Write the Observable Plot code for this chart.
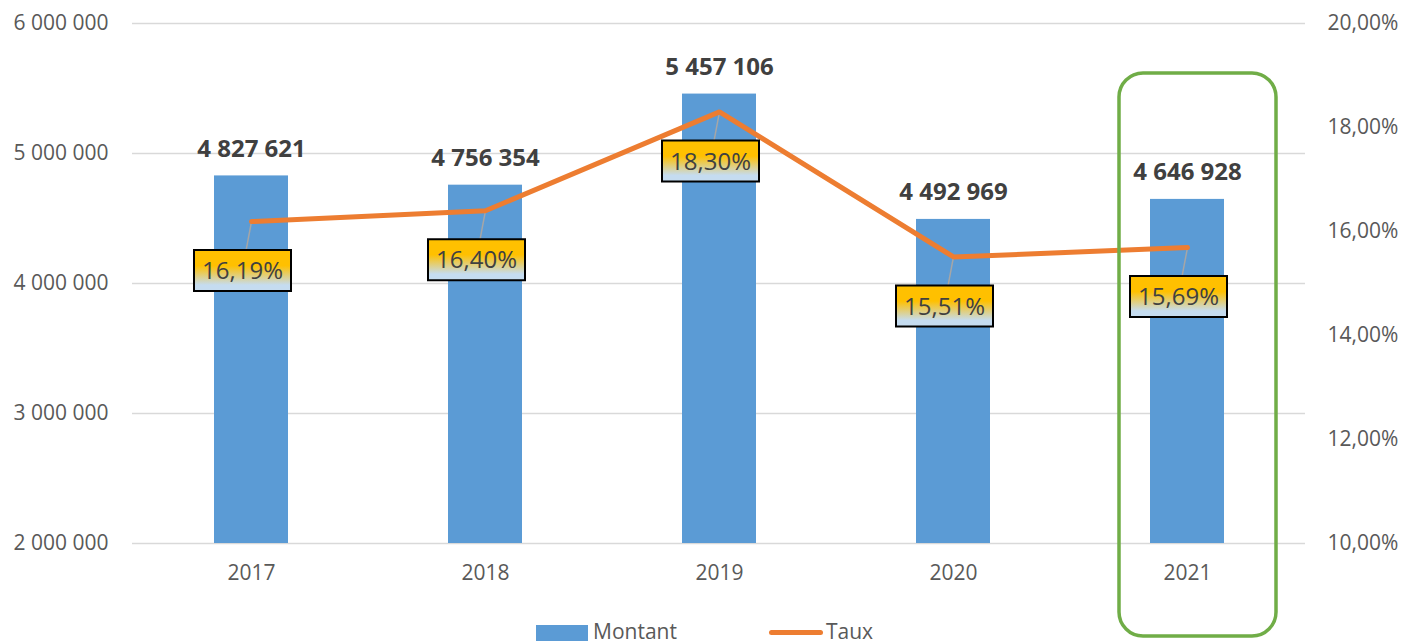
<!DOCTYPE html>
<html>
<head>
<meta charset="utf-8">
<script src="https://cdn.jsdelivr.net/npm/d3@7"></script>
<script src="https://cdn.jsdelivr.net/npm/@observablehq/plot@0.6"></script>
<style>
  html, body { margin: 0; padding: 0; background: #fff; }
  #wrap { position: relative; width: 1401px; height: 641px; overflow: hidden; font-family: "Open Sans", sans-serif; }
  .leg { position: absolute; font-size: 21px; color: #595959; line-height: 24px; }
</style>
</head>
<body>
<div id="wrap"></div>
<script>
// ---- data ----
const years = ["2017", "2018", "2019", "2020", "2021"];
const montant = [4827621, 4756354, 5457106, 4492969, 4646928];
const taux = [16.19, 16.40, 18.30, 15.51, 15.69];
const leftTicks = [2000000, 3000000, 4000000, 5000000, 6000000];
const rightTicks = [10, 12, 14, 16, 18, 20];
const highlightYears = ["2021"];
const legendLabels = ["Montant", "Taux"];

// ---- scales mapping ----
const yMin = 2000000, yMax = 6000000, pMin = 10, pMax = 20;
const toY = p => yMin + (p - pMin) / (pMax - pMin) * (yMax - yMin);
const fromY = v => pMin + (v - yMin) / (yMax - yMin) * (pMax - pMin);

const loc = d3.formatLocale({decimal: ",", thousands: "\u00a0", grouping: [3], currency: ["", ""]});
const fmtN = loc.format(",d");
const fmtP = v => loc.format(".2f")(v) + "%";

const data = years.map((year, i) => ({year, montant: montant[i], taux: taux[i], tauxY: toY(taux[i])}));
const hl = highlightYears.map(year => ({year}));

const C_BAR = "#5B9BD5", C_LINE = "#ED7D31", C_GRID = "#D9D9D9", C_HL = "#70AD47";

const boxSymbol = {draw(ctx) { ctx.rect(-48.5, -20.5, 97, 41); }};
const leaderShape = {draw(ctx, l) { ctx.moveTo(0, 0); ctx.lineTo(0, -l); }};
const LDX = -9, LDY = 49;

const chart = Plot.plot({
  width: 1401,
  height: 641,
  marginTop: 23,
  marginBottom: 98,
  marginLeft: 132,
  marginRight: 96,
  style: {fontFamily: "'Open Sans', sans-serif", fontSize: "21px", color: "#595959", background: "#fff", overflow: "visible"},
  x: {type: "band", domain: years, paddingInner: 0.685, paddingOuter: 0.3425, label: null},
  y: {domain: [yMin, yMax], label: null},
  marks: [
    Plot.gridY(leftTicks, {stroke: C_GRID, strokeOpacity: 1, strokeWidth: 1.5}),
    Plot.axisY(leftTicks, {anchor: "left", tickSize: 0, tickPadding: 24, tickFormat: fmtN, label: null, fontSize: 21}),
    Plot.axisY(rightTicks.map(toY), {anchor: "right", tickSize: 0, tickPadding: 22, tickFormat: v => fmtP(Math.round(fromY(v) * 100) / 100), label: null, fontSize: 21}),
    Plot.axisX({tickSize: 0, tickPadding: 22, label: null, fontSize: 21}),
    Plot.barY(data, {x: "year", y1: yMin, y2: "montant", fill: C_BAR}),
    Plot.text(data, {x: "year", y: "montant", text: d => fmtN(d.montant), fontWeight: "bold", fill: "#404040", fontSize: 24, dy: -27}),
    Plot.vector(data, {x: "year", y: "tauxY", anchor: "start", length: Math.hypot(LDX * 0.6, LDY - 20.5), rotate: 180 - Math.atan2(LDX * 0.6, LDY - 20.5) * 180 / Math.PI, shape: leaderShape, stroke: "#A6A6A6", strokeWidth: 1.5}),
    Plot.line(data, {x: "year", y: "tauxY", stroke: C_LINE, strokeWidth: 5, strokeLinejoin: "miter"}),
    Plot.dot(data, {x: "year", y: "tauxY", symbol: boxSymbol, r: 10, fill: "url(#lblgrad)", stroke: "#000", strokeWidth: 2, dx: LDX, dy: LDY}),
    Plot.text(data, {x: "year", y: "tauxY", text: d => fmtP(d.taux), fill: "#404040", fontSize: 24, dx: LDX, dy: LDY + 1}),
    Plot.barY(hl, {x: "year", y1: yMin, y2: yMax, fill: "none", stroke: C_HL, strokeWidth: 3.5, rx: 24, ry: 24, insetLeft: -31, insetRight: -52, insetTop: 50, insetBottom: -93})
  ]
});

// gradient definition for label boxes
const defs = d3.select(chart).insert("defs", ":first-child");
const g = defs.append("linearGradient").attr("id", "lblgrad").attr("x1", 0).attr("y1", 0).attr("x2", 0).attr("y2", 1);
g.append("stop").attr("offset", "0%").attr("stop-color", "#FFC000");
g.append("stop").attr("offset", "38%").attr("stop-color", "#FFC000");
g.append("stop").attr("offset", "85%").attr("stop-color", "#C5DCF0");
g.append("stop").attr("offset", "100%").attr("stop-color", "#C5DCF0");

const wrap = document.getElementById("wrap");
wrap.appendChild(chart);

// legend
const leg1sw = document.createElement("div");
leg1sw.style.cssText = "position:absolute;left:536px;top:625px;width:52px;height:16px;background:" + C_BAR;
const leg1 = document.createElement("div");
leg1.className = "leg"; leg1.style.cssText = "left:593px;top:619px;"; leg1.textContent = legendLabels[0];
const leg2sw = document.createElement("div");
leg2sw.style.cssText = "position:absolute;left:769px;top:630px;width:54px;height:5px;border-radius:3px;background:" + C_LINE;
const leg2 = document.createElement("div");
leg2.className = "leg"; leg2.style.cssText = "left:826px;top:619px;"; leg2.textContent = legendLabels[1];
[leg1sw, leg1, leg2sw, leg2].forEach(e => wrap.appendChild(e));
</script>
</body>
</html>
